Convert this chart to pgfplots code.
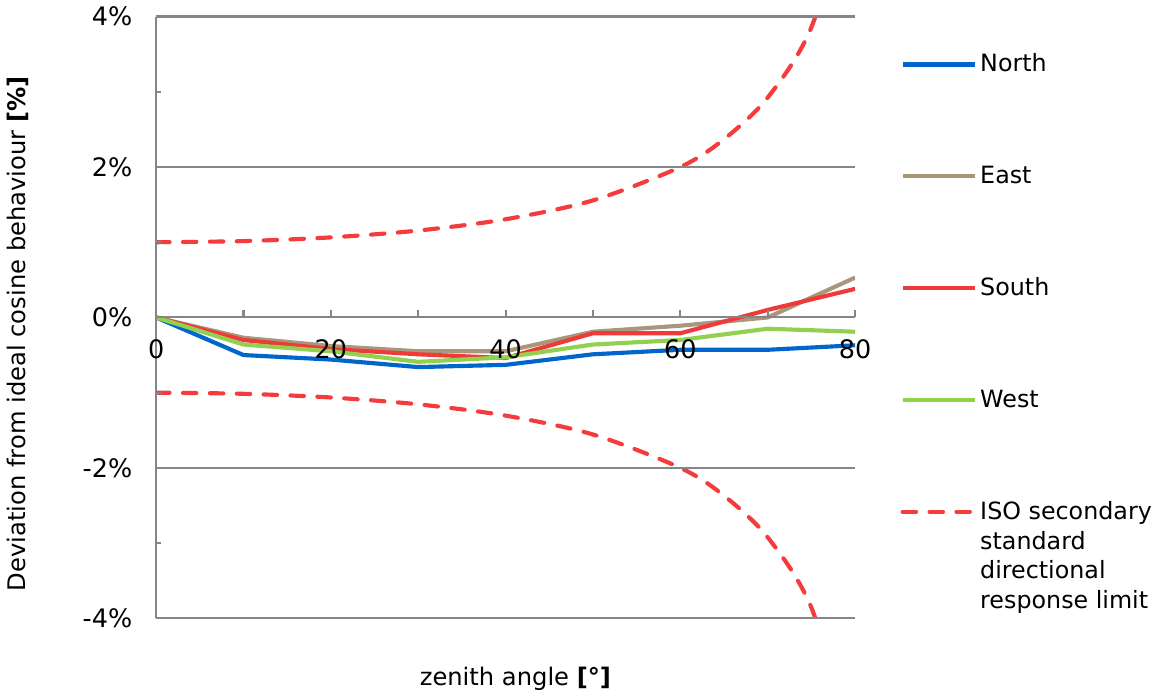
\documentclass[border=0pt]{standalone}
\usepackage{fontspec}
\setmainfont{DejaVu Sans}
\usepackage{pgfplots}
\pgfplotsset{compat=1.18}
\definecolor{cNorth}{RGB}{0,102,204}
\definecolor{cEast}{RGB}{168,151,122}
\definecolor{cSouth}{RGB}{240,58,58}
\definecolor{cWest}{RGB}{146,208,80}
\definecolor{cISO}{RGB}{245,59,59}
\definecolor{cGrid}{RGB}{134,134,134}
\pgfplotsset{
  layers/mylayers/.define layer set={axis background,axis grid,axis ticks,axis lines,pre main,main,axis tick labels,axis descriptions,axis foreground}{},
}
\begin{document}
\begin{tikzpicture}
\begin{axis}[
  set layers=mylayers,
  clip mode=individual,
  scale only axis,
  width=338pt, height=291pt,
  xmin=0, xmax=80, ymin=-4, ymax=4,
  axis y line*=left,
  axis x line*=middle,
  hide obscured x ticks=false,
  axis line style={cGrid, line width=1pt, -},
  xtick={0,10,...,80},
  xticklabels={0,,20,,40,,60,,80},
  ytick={-4,-2,0,2,4},
  yticklabels={-4\%,-2\%,0\%,2\%,4\%},
  minor ytick={-3,-1,1,3},
  ymajorgrids,
  grid style={cGrid, line width=1pt},
  tick align=inside,
  major tick length=3.5pt,
  minor tick length=2.5pt,
  tick style={cGrid, line width=1pt},
  x tick label style={yshift=-7pt},
  y tick label style={xshift=-8pt},
  tick label style={font=\fontsize{12.3}{14}\selectfont},
  /pgf/number format/assume math mode=true,
  xlabel={zenith angle \textbf{[°]}},
  ylabel={Deviation from ideal cosine behaviour \textbf{[\%]}},
  every axis x label/.style={at={(axis description cs:0.514,-0.1)}, anchor=center, font=\fontsize{11.7}{14}\selectfont},
  every axis y label/.style={at={(axis description cs:-0.198,0.473)}, anchor=center, rotate=90, font=\fontsize{11.7}{14}\selectfont},
  legend style={draw=none, fill=none, inner sep=0pt, outer sep=0pt,
    at={(axis description cs:1.065,0.943)}, anchor=north west,
    font=\fontsize{11.5}{14.4}\selectfont, row sep=41pt, column sep=0pt,
    nodes={inner sep=1.5pt}},
  legend cell align=left,
  legend image code/.code={\draw[#1] (0pt,0pt) -- (35pt,0pt);},
  every axis plot/.append style={line width=2pt, line join=round, on layer=pre main},
]
\addplot[cNorth] coordinates {(0,0) (10,-0.50) (20,-0.56) (30,-0.66) (40,-0.63) (50,-0.49) (60,-0.43) (70,-0.43) (80,-0.37)};
\addlegendentry{North}
\addplot[cEast] coordinates {(0,0) (10,-0.27) (20,-0.38) (30,-0.45) (40,-0.45) (50,-0.19) (60,-0.11) (70,0.0) (80,0.53)};
\addlegendentry{East}
\addplot[cSouth] coordinates {(0,0) (10,-0.30) (20,-0.42) (30,-0.49) (40,-0.54) (50,-0.21) (60,-0.21) (70,0.10) (80,0.38)};
\addlegendentry{South}
\addplot[cWest] coordinates {(0,0) (10,-0.36) (20,-0.45) (30,-0.59) (40,-0.53) (50,-0.36) (60,-0.30) (70,-0.15) (80,-0.19)};
\addlegendentry{West}
\addplot[cISO, smooth, dash pattern=on 6.5pt off 6.5pt, line cap=round] coordinates {(0,1.00) (10,1.015) (20,1.064) (30,1.155) (40,1.305) (50,1.556) (60,2.00) (65,2.37) (70,2.924) (75,3.86) (80,5.759)};
\addlegendentry{\vtop{\baselineskip=14.4pt\hbox{ISO secondary}\hbox{standard}\hbox{directional}\hbox{response limit}}}
\addplot[cISO, smooth, dash pattern=on 6.5pt off 6.5pt, line cap=round, forget plot] coordinates {(0,-1.00) (10,-1.015) (20,-1.064) (30,-1.155) (40,-1.305) (50,-1.556) (60,-2.00) (65,-2.37) (70,-2.924) (75,-3.86) (80,-5.759)};
\end{axis}
\end{tikzpicture}
\end{document}
